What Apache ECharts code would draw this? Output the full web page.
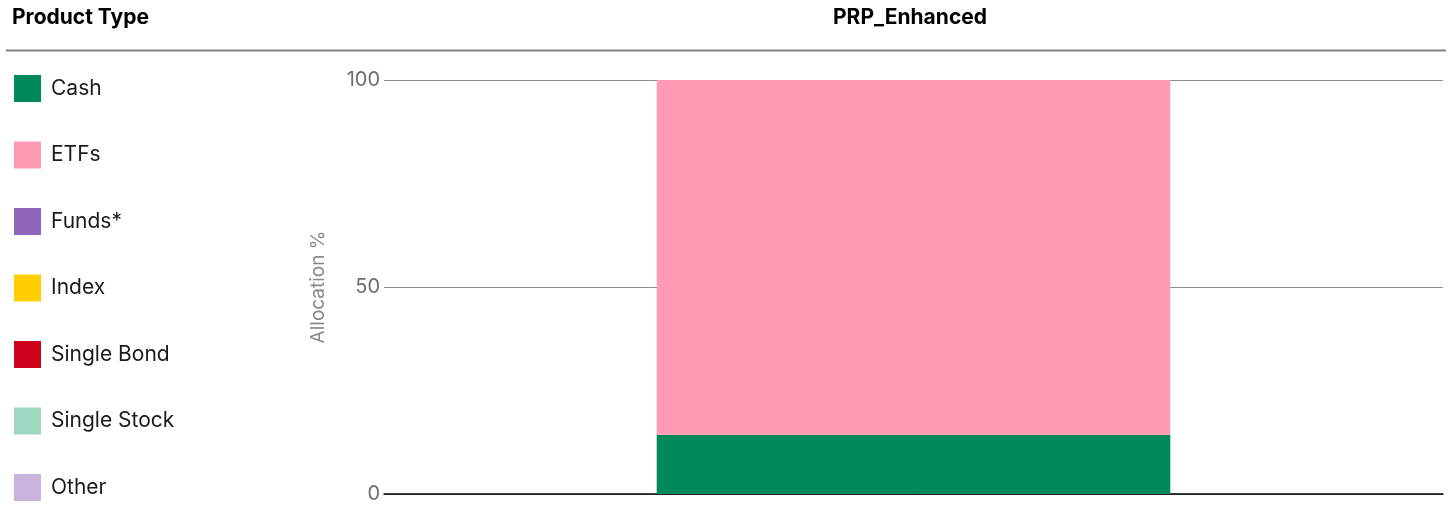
<!DOCTYPE html>
<html lang="en">
<head>
    <meta charset="UTF-8">
    <title>PRP_Enhanced</title>
    <style>
        html, body { margin: 0; padding: 0; background: #fff; }
    </style>
</head>
<body>
    <div id="chart" style="width: 1452px;height:506px;"></div>
    <script src="https://cdn.jsdelivr.net/npm/echarts@6/dist/echarts.min.js"></script>
    <script type="text/javascript">
       // data
       var categories = ['PRP_Enhanced'];
       var productTypes = ['Cash', 'ETFs', 'Funds*', 'Index', 'Single Bond', 'Single Stock', 'Other'];
       var colors = ['#008a5b', '#fd9bb4', '#9065bb', '#ffcd00', '#cf001c', '#9dd7bf', '#c7b3dc'];
       var cash = [14.3];
       var etfs = [85.7];
       var funds = [0];
       var index = [0];
       var singleBond = [0];
       var singleStock = [0];
       var other = [0];
       var yTicks = [0, 50, 100];

       var values = [cash, etfs, funds, index, singleBond, singleStock, other];

       var myChart = echarts.init(document.getElementById('chart'));

       var series = [];
       for (var i = 0; i < productTypes.length; i++) {
           series.push({
               name: productTypes[i],
               type: 'bar',
               stack: 'total',
               barWidth: '48.5%',
               itemStyle: { color: colors[i] },
               data: values[i]
           });
       }

       var option = {
           animation: false,
           textStyle: { fontFamily: 'Inter' },
           title: [{
               text: 'Product Type',
               left: 12, top: 7,
               padding: 0,
               textStyle: { fontSize: 21, fontWeight: 'bold', color: '#000' }
           }, {
               text: categories[0],
               left: 910, top: 7,
               padding: 0,
               textAlign: 'center',
               textStyle: { fontSize: 21, fontWeight: 'bold', color: '#000' }
           }],
           graphic: [{
               type: 'line',
               shape: { x1: 6, y1: 50.5, x2: 1446, y2: 50.5 },
               style: { stroke: '#808080', lineWidth: 2 }
           }],
           legend: {
               data: productTypes,
               orient: 'vertical',
               left: 14,
               top: 75,
               height: 430,
               padding: 0,
               itemWidth: 27,
               itemHeight: 27,
               itemGap: 39.5,
               icon: 'rect',
               selectedMode: false,
               textStyle: { fontSize: 21, color: '#1a1a1a', padding: [0, 0, 0, 5] }
           },
           grid: { left: 384, right: 9, top: 80, bottom: 12 },
           xAxis: {
               type: 'category',
               data: categories,
               axisTick: { show: false },
               axisLabel: { show: false },
               axisLine: { lineStyle: { color: '#000', width: 1.5 } }
           },
           yAxis: {
               type: 'value',
               min: yTicks[0],
               max: yTicks[yTicks.length - 1],
               interval: 50,
               name: 'Allocation %',
               nameLocation: 'middle',
               nameGap: 56,
               nameTextStyle: { fontSize: 19, color: '#8a8a8a' },
               axisLine: { show: false },
               axisTick: { show: false },
               axisLabel: { fontSize: 20, color: '#6e6e6e', margin: 4, padding: [3, 0, 0, 0] },
               splitLine: { lineStyle: { color: '#8c8c8c', width: 1 } }
           },
           series: series
       };
       myChart.setOption(option);
    </script>
</body>
</html>
